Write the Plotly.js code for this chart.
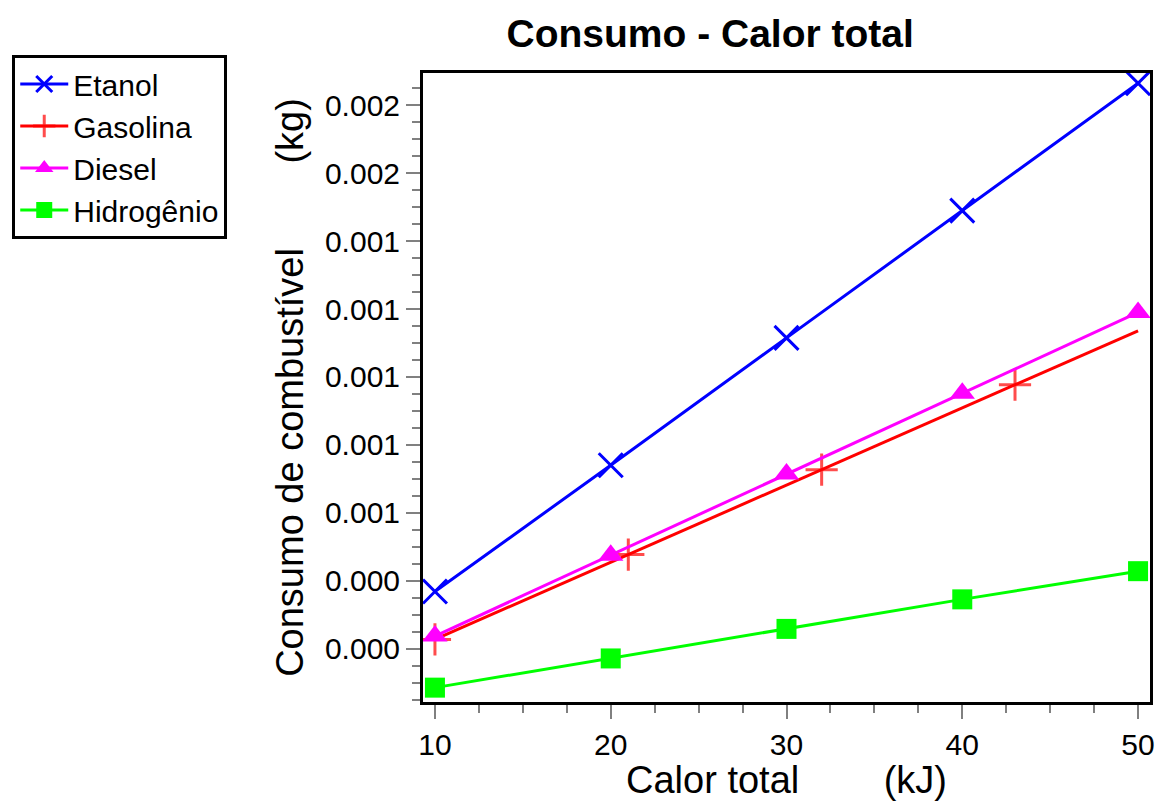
<!DOCTYPE html>
<html>
<head>
<meta charset="utf-8">
<script src="https://cdn.plot.ly/plotly-3.0.1.min.js"></script>
<style>html,body{margin:0;padding:0;background:#fff;}#chart{width:1159px;height:801px;}</style>
</head>
<body>
<div id="chart"></div>
<script>
// Data
const calorTotal = [10, 20, 30, 40, 50];               // kJ
const etanol     = [0.000368, 0.000740, 0.001115, 0.001490, 0.001865];
const diesel     = [0.000237, 0.000475, 0.000714, 0.000952, 0.001190];
const hidrogenio = [0.000085, 0.000171, 0.000258, 0.000345, 0.000428];
const calorGasolina = [10, 21, 32, 43, 50];
const gasolina   = [0.000227, 0.000477, 0.000727, 0.000977, 0.001136];
const gasolinaMarked = [true, true, true, true, false];

const nb = '\u00A0'.repeat(8);
const fontFam = '"Liberation Sans", Arial, sans-serif';

const traces = [
  {name: 'Etanol', x: calorTotal, y: etanol, mode: 'lines+markers',
   line: {color: '#0000FF', width: 3},
   marker: {symbol: 'x-thin-open', size: 24, color: '#0000FF', line: {color: '#0000FF', width: 3}}},
  {name: 'Gasolina', x: calorGasolina, y: gasolina, mode: 'lines+markers',
   line: {color: '#FF0000', width: 3},
   marker: {symbol: 'cross-thin-open', size: gasolinaMarked.map(m => m ? 23 : 0), color: '#FF0000', line: {color: '#FF0000', width: 3}}},
  {name: 'Diesel', x: calorTotal, y: diesel, mode: 'lines+markers',
   line: {color: '#FF00FF', width: 3},
   marker: {symbol: 'triangle-up', size: 22, color: '#FF00FF'}},
  {name: 'Hidrogênio', x: calorTotal, y: hidrogenio, mode: 'lines+markers',
   line: {color: '#00FF00', width: 3},
   marker: {symbol: 'square', size: 20, color: '#00FF00'}}
];

const layout = {
  width: 1159, height: 801,
  paper_bgcolor: '#FFFFFF', plot_bgcolor: '#FFFFFF',
  font: {family: fontFam, color: '#000000', size: 30},
  margin: {l: 423, r: 9, t: 73, b: 99, pad: 0},
  title: {text: '<b>Consumo - Calor total</b>', font: {family: fontFam, size: 39, color: '#000'},
          xref: 'paper', x: 0.395, xanchor: 'center', yref: 'container', y: 0.958, yanchor: 'middle'},
  xaxis: {
    range: [9.32, 50.68], tick0: 0, dtick: 10,
    showgrid: false, zeroline: false,
    showline: true, linecolor: '#000', linewidth: 3, mirror: true,
    ticks: 'outside', ticklen: 14, tickwidth: 2, tickcolor: '#808080',
    tickfont: {size: 30, family: fontFam},
    minor: {dtick: 2.5, ticks: 'outside', ticklen: 8, tickwidth: 2, tickcolor: '#808080', showgrid: false},
    title: {text: 'Calor total' + nb + '(kJ)', font: {size: 38, family: fontFam}, standoff: 6}
  },
  yaxis: {
    range: [0.0000427, 0.0018952], tick0: 0, dtick: 0.0002, tickformat: '.3f',
    showgrid: false, zeroline: false,
    showline: true, linecolor: '#000', linewidth: 3, mirror: true,
    ticks: 'outside', ticklen: 14, tickwidth: 2, tickcolor: '#808080',
    tickfont: {size: 30, family: fontFam},
    minor: {dtick: 0.00005, ticks: 'outside', ticklen: 8, tickwidth: 2, tickcolor: '#808080', showgrid: false},
    title: {text: 'Consumo de combustível' + nb + '(kg)', font: {size: 38, family: fontFam}, standoff: 10}
  },
  showlegend: true,
  legend: {
    x: -0.565, xanchor: 'left', y: 1.0286, yanchor: 'top',
    bgcolor: '#FFFFFF', bordercolor: '#000000', borderwidth: 3,
    font: {size: 30, family: fontFam, color: '#000'},
    itemwidth: 48,
    tracegroupgap: 0
  }
};

Plotly.newPlot('chart', traces, layout, {displayModeBar: false, staticPlot: true});
</script>
</body>
</html>
